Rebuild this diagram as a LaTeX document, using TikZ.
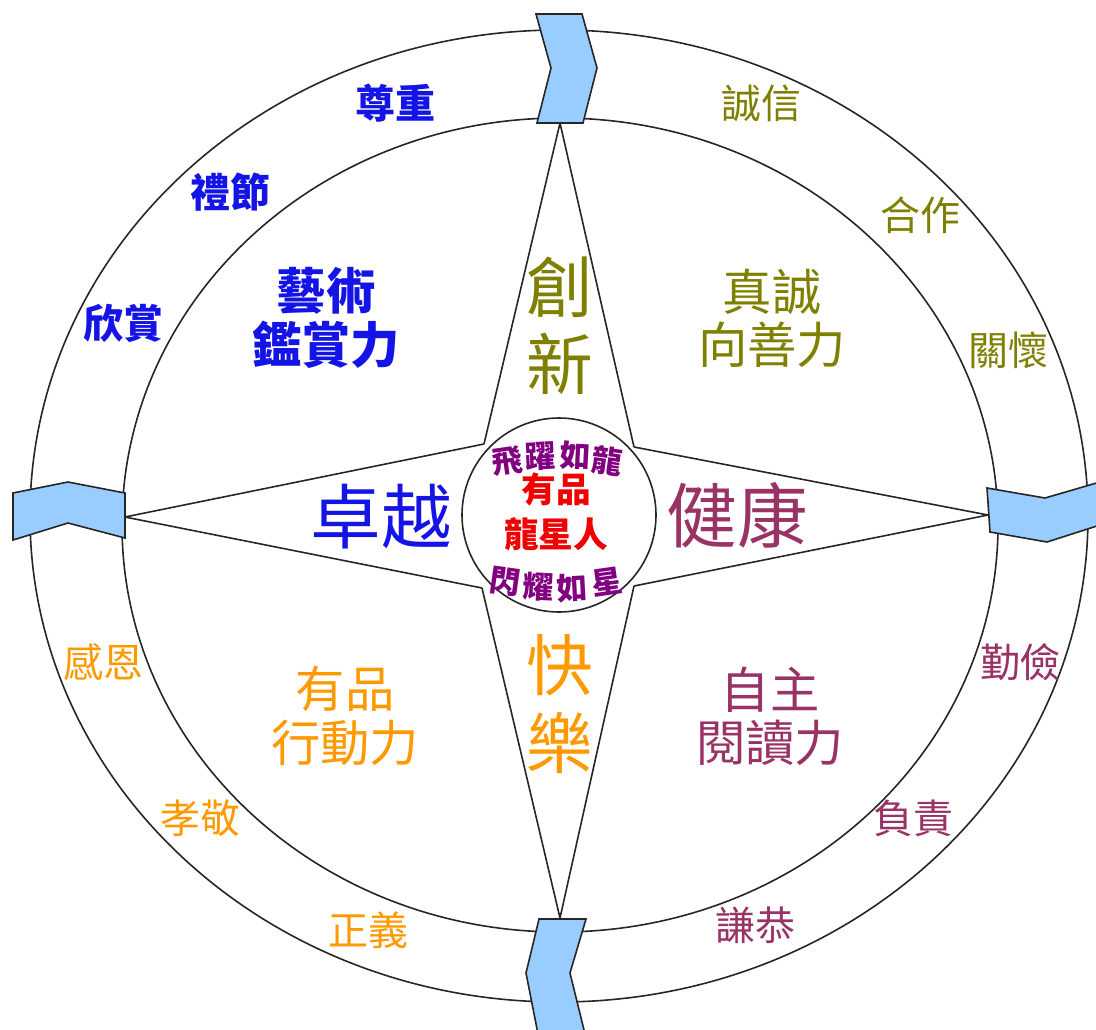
\documentclass[tikz,border=0pt]{standalone}
\usepackage{fontspec}
\newfontfamily\cjk{Noto Sans CJK TC}
\definecolor{blueT}{RGB}{20,20,230}
\definecolor{oliveT}{RGB}{128,128,0}
\definecolor{purpT}{RGB}{153,51,102}
\definecolor{orangeT}{RGB}{255,153,0}
\definecolor{violetT}{RGB}{128,0,128}
\definecolor{redT}{RGB}{240,0,0}
\definecolor{chev}{RGB}{153,204,255}
\tikzset{
  ring/.style={line width=1.2pt, draw=black!85},
  chevron/.style={line width=1.2pt, draw=black!85, fill=chev, line join=miter},
  lab/.style={inner sep=0pt, align=center},
  small/.style={lab, font=\cjk\fontsize{30}{30}\selectfont},
  mid/.style={lab, font=\cjk\fontsize{37}{40}\selectfont},
  big/.style={lab, font=\cjk\fontsize{50}{58}\selectfont},
  huge/.style={lab, font=\cjk\fontsize{53}{58}\selectfont},
  arc/.style={lab, font=\cjk\bfseries\fontsize{23}{23}\selectfont, text=violetT},
}
\begin{document}
\begin{tikzpicture}[x=0.75pt, y=-0.75pt]
\useasboundingbox (0,0) rectangle (1096,1029);
% rings
\draw[ring] (559,516) ellipse [x radius=396.75pt, y radius=364.5pt];
\draw[ring] (560,525) ellipse [x radius=328.5pt, y radius=305.25pt];
% star points and inner vertices
\coordinate (N) at (560,123);
\coordinate (S) at (560,918);
\coordinate (W) at (125,517);
\coordinate (E) at (988,515);
\coordinate (NW) at (484,444);
\coordinate (NE) at (634,447);
\coordinate (SW) at (482,588);
\coordinate (SE) at (634,586);
\draw[ring] (N) -- (NW);
\draw[ring] (N) -- (NE);
\draw[ring] (W) -- (NW);
\draw[ring] (W) -- (SW);
\draw[ring] (E) -- (NE);
\draw[ring] (E) -- (SE);
\draw[ring] (S) -- (SW);
\draw[ring] (S) -- (SE);
% center circle
\node[ring, circle, minimum size=145.5pt, inner sep=0pt] (hub) at (559,515) {};
% chevrons
\draw[chevron] (536,14) -- (582,14) -- (597,68) -- (583,123) -- (537,123) -- (551,68) -- cycle;
\draw[chevron] (539,919) -- (586,919) -- (570,973) -- (585,1034) -- (538,1034) -- (526,973) -- cycle;
\draw[chevron] (13,493) -- (68,482) -- (125,493) -- (125,538) -- (68,523) -- (13,540) -- cycle;
\draw[chevron] (987,488) -- (1045,498) -- (1100,482) -- (1100,525) -- (1047,542) -- (990,532) -- cycle;
% blue quadrant
\node[small, text=blueT, font=\cjk\bfseries\fontsize{30}{30}\selectfont] (zz) at (395,103) {尊重};
\node[small, text=blueT, font=\cjk\bfseries\fontsize{30}{30}\selectfont] (lj) at (230,192) {禮節};
\node[small, text=blueT, font=\cjk\bfseries\fontsize{30}{30}\selectfont] (xs) at (123,323) {欣賞};
\node[mid, text=blueT, font=\cjk\bfseries\fontsize{37}{40}\selectfont] (ys) at (326,318) {藝術\\鑑賞力};
\node[huge, text=blueT] (zy) at (381,517) {卓越};
% olive quadrant
\node[small, text=oliveT] (cx) at (761,103) {誠信};
\node[small, text=oliveT] (hz) at (920,215) {合作};
\node[small, text=oliveT] (gh) at (1008,350) {關懷};
\node[mid, text=oliveT] (zc) at (772,318) {真誠\\向善力};
\node[big, text=oliveT] (cxn) at (560,326) {創\\新};
% purple quadrant
\node[small, text=purpT] (qj) at (1020,662) {勤儉};
\node[small, text=purpT] (fz) at (913,818) {負責};
\node[small, text=purpT] (qg) at (755,925) {謙恭};
\node[mid, text=purpT] (zz2) at (770,716) {自主\\閱讀力};
\node[huge, text=purpT] (jk) at (737,515) {健康};
% orange quadrant
\node[small, text=orangeT] (ge) at (103,662) {感恩};
\node[small, text=orangeT] (xj) at (200,818) {孝敬};
\node[small, text=orangeT] (zyi) at (368,930) {正義};
\node[mid, text=orangeT] (yp) at (345,716) {有品\\行動力};
\node[big, text=orangeT] (kl) at (560,704) {快\\樂};
% center
\node[lab, text=redT, font=\cjk\bfseries\fontsize{26}{34}\selectfont] (core) at (556,512) {有品\\龍星人};
\node[arc, rotate=8] (t1) at (507,461) {飛};
\node[arc, rotate=3] (t2) at (540,456) {躍};
\node[arc, rotate=-3] (t3) at (575,456) {如};
\node[arc, rotate=-8] (t4) at (607,461) {龍};
\node[arc, rotate=-8] (b1) at (505,582) {閃};
\node[arc, rotate=-3] (b2) at (538,587) {耀};
\node[arc, rotate=3] (b3) at (572,588) {如};
\node[arc, rotate=8] (b4) at (607,582) {星};
\end{tikzpicture}
\end{document}
